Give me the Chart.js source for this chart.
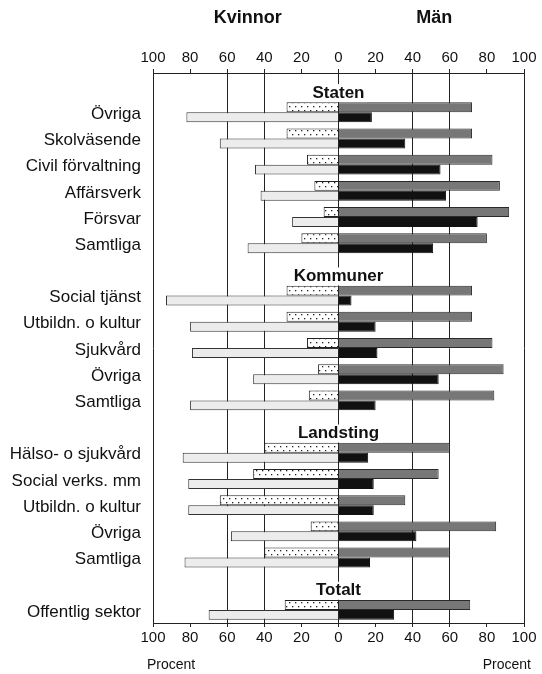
<!DOCTYPE html>
<html>
<head>
<meta charset="utf-8">
<script src="https://cdn.jsdelivr.net/npm/chart.js@4/dist/chart.umd.min.js"></script>
<style>
  html, body { margin: 0; padding: 0; background: #fff; }
  #wrap { width: 542px; height: 674px; }
</style>
</head>
<body>
<div id="wrap"><canvas id="pyramid"></canvas></div>
<script>
// rows: empty label = section heading slot
const categories = [
  '', 'Övriga', 'Skolväsende', 'Civil förvaltning', 'Affärsverk', 'Försvar', 'Samtliga',
  '', 'Social tjänst', 'Utbildn. o kultur', 'Sjukvård', 'Övriga', 'Samtliga',
  '', 'Hälso- o sjukvård', 'Social verks. mm', 'Utbildn. o kultur', 'Övriga', 'Samtliga',
  '', 'Offentlig sektor'
];
const sectionTitles = ['Staten', 'Kommuner', 'Landsting', 'Totalt'];
const sectionRows = [0, 7, 13, 19];

// percent values, women drawn to the left
const kvinnorOvre  = [null, 28, 28, 17, 13, 8, 20,  null, 28, 28, 17, 11, 16,  null, 40, 46, 64, 15, 40,  null, 29];
const kvinnorUndre = [null, 82, 64, 45, 42, 25, 49, null, 93, 80, 79, 46, 80,  null, 84, 81, 81, 58, 83,  null, 70];
const manOvre      = [null, 72, 72, 83, 87, 92, 80, null, 72, 72, 83, 89, 84,  null, 60, 54, 36, 85, 60,  null, 71];
const manUndre     = [null, 18, 36, 55, 58, 75, 51, null, 7, 20, 21, 54, 20,    null, 16, 19, 19, 42, 17,  null, 30];

const tickValues = [-100, -80, -60, -40, -20, 0, 20, 40, 60, 80, 100];
const fullLines = [0, 40, 60, 100];

const FONT = '"Liberation Sans", Arial, Helvetica, sans-serif';

function dotPattern() {
  const c = document.createElement('canvas');
  c.width = 6; c.height = 8;
  const g = c.getContext('2d');
  g.fillStyle = '#fff';
  g.fillRect(0, 0, 6, 8);
  g.fillStyle = '#222';
  g.fillRect(1, 2, 1.3, 1.3);
  g.fillRect(4, 6, 1.3, 1.3);
  return g.createPattern(c, 'repeat');
}

const neg = arr => arr.map(v => v == null ? null : -v);

const sideTitles = {
  id: 'sideTitles',
  afterDraw(chart) {
    const { ctx, chartArea } = chart;
    const x = chart.scales.x;
    ctx.save();
    ctx.fillStyle = '#111';
    ctx.textBaseline = 'middle';
    ctx.textAlign = 'center';
    ctx.font = 'bold 18px ' + FONT;
    ctx.fillText('Kvinnor', x.getPixelForValue(-50) + 2, 18);
    ctx.fillText('Män', x.getPixelForValue(50) + 3, 18);
    ctx.font = '14px ' + FONT;
    ctx.textAlign = 'left';
    ctx.fillText('Procent', chartArea.left - 6, 665);
    ctx.textAlign = 'right';
    ctx.fillText('Procent', chartArea.right + 7, 665);
    ctx.restore();
  }
};

const sectionHeadings = {
  id: 'sectionHeadings',
  afterDatasetsDraw(chart) {
    const { ctx } = chart;
    const x0 = chart.scales.x.getPixelForValue(0);
    ctx.save();
    ctx.font = 'bold 17px ' + FONT;
    ctx.textAlign = 'center';
    ctx.textBaseline = 'middle';
    sectionTitles.forEach((t, i) => {
      const y = chart.scales.y.getPixelForValue(sectionRows[i]) + 7;
      const w = ctx.measureText(t).width;
      ctx.fillStyle = '#fff';
      ctx.fillRect(x0 - w / 2 - 3, y - 9, w + 6, 18);
      ctx.fillStyle = '#111';
      ctx.fillText(t, x0, y);
    });
    ctx.restore();
  }
};

const xTicks = {
  min: -100, max: 100,
  afterBuildTicks: axis => { axis.ticks = tickValues.map(v => ({ value: v })); },
  ticks: {
    callback: v => Math.abs(v),
    color: '#111',
    font: { family: FONT, size: 15 },
    padding: 2,
    maxRotation: 0
  }
};

new Chart(document.getElementById('pyramid'), {
  type: 'bar',
  data: {
    labels: categories,
    datasets: [
      { label: 'Kvinnor övre', data: neg(kvinnorOvre), stack: 'ovre',
        backgroundColor: dotPattern(), borderColor: '#222', borderWidth: 1 },
      { label: 'Män övre', data: manOvre, stack: 'ovre',
        backgroundColor: '#777', borderColor: '#2a2a2a', borderWidth: 1 },
      { label: 'Kvinnor undre', data: neg(kvinnorUndre), stack: 'undre',
        backgroundColor: '#ececec', borderColor: '#333', borderWidth: 1 },
      { label: 'Män undre', data: manUndre, stack: 'undre',
        backgroundColor: '#111', borderColor: '#111', borderWidth: 1 }
    ]
  },
  options: {
    indexAxis: 'y',
    responsive: true,
    maintainAspectRatio: false,
    animation: false,
    layout: { padding: { top: 47, bottom: 25, right: 18, left: 0 } },
    datasets: { bar: { categoryPercentage: 0.76, barPercentage: 1 } },
    plugins: { legend: { display: false }, tooltip: { enabled: false } },
    scales: {
      x: Object.assign({}, xTicks, {
        position: 'top',
        stacked: true,
        grid: {
          color: c => fullLines.includes(Math.abs(c.tick.value)) ? '#222' : 'rgba(0,0,0,0)',
          tickColor: '#222',
          tickLength: 4,
          lineWidth: 1
        },
        border: { color: '#222', width: 1 }
      }),
      x2: Object.assign({}, xTicks, {
        position: 'bottom',
        grid: { drawOnChartArea: false, tickColor: '#222', tickLength: 4 },
        border: { color: '#222', width: 1 }
      }),
      y: {
        stacked: true,
        grid: { display: false, drawTicks: false },
        border: { display: false },
        afterFit: s => { s.width = 153; },
        ticks: {
          color: '#111',
          font: { family: FONT, size: 17 },
          padding: 12,
          labelOffset: 2,
          autoSkip: false
        }
      }
    }
  },
  plugins: [sideTitles, sectionHeadings]
});
</script>
</body>
</html>
